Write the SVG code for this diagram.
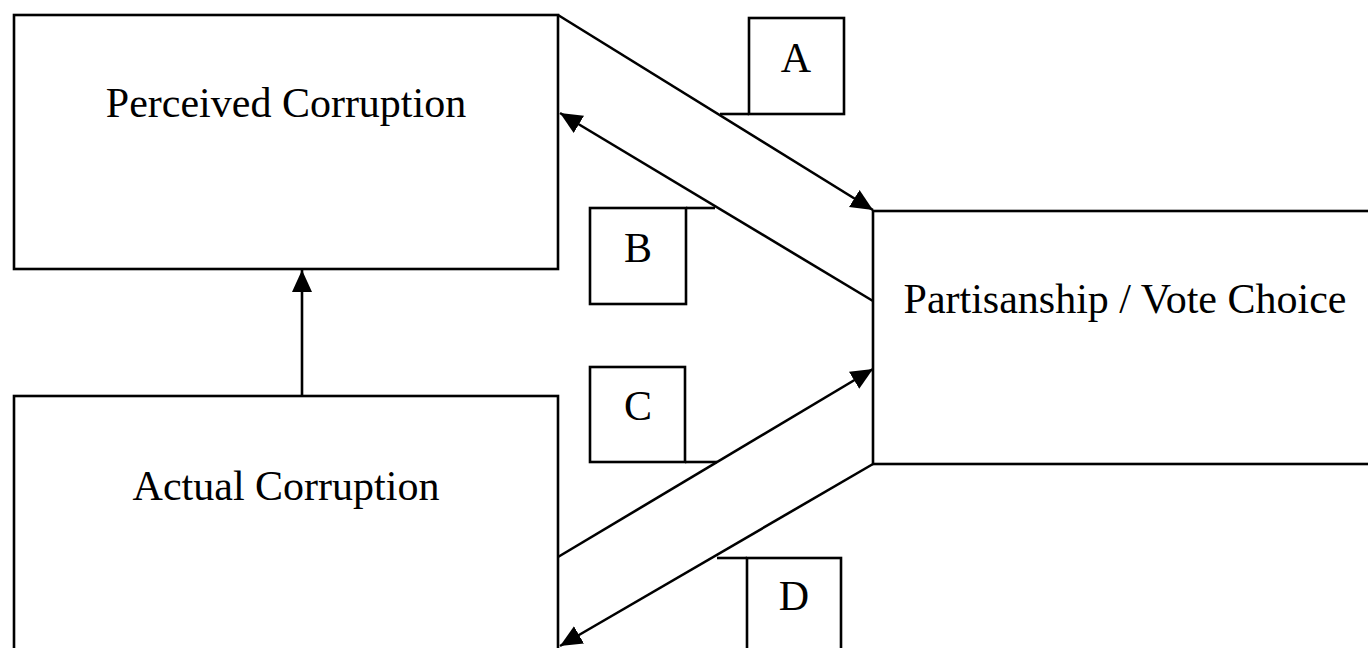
<svg xmlns="http://www.w3.org/2000/svg" width="1368" height="648" viewBox="0 0 1368 648">
<style>
.box{fill:none;stroke:#000;stroke-width:2.6}
.ln{fill:none;stroke:#000;stroke-width:2.6}
.t{font-family:"Liberation Serif","Times New Roman",serif;font-size:42px;fill:#000;text-anchor:middle}
</style>
<defs>
<marker id="ah" markerUnits="userSpaceOnUse" markerWidth="24" markerHeight="22" viewBox="0 0 24 22" refX="22" refY="11" orient="auto">
<path d="M0,1 L22,11 L0,21 Z" fill="#000"/>
</marker>
</defs>
<rect width="1368" height="648" fill="#fff"/>
<g id="perceived">
<rect class="box" x="14" y="15" width="544" height="254"/>
<text class="t" x="286" y="117">Perceived Corruption</text>
</g>
<g id="actual">
<rect class="box" x="14" y="396" width="544" height="270"/>
<text class="t" x="286" y="500">Actual Corruption</text>
</g>
<g id="partisanship">
<rect class="box" x="873" y="211" width="520" height="253"/>
<text class="t" x="1125" y="313">Partisanship / Vote Choice</text>
</g>
<g id="labelA">
<rect class="box" x="749" y="18" width="95" height="96"/>
<line class="ln" x1="720" y1="114" x2="749" y2="114"/>
<text class="t" x="796" y="72">A</text>
</g>
<g id="labelB">
<rect class="box" x="590" y="208" width="96" height="96"/>
<line class="ln" x1="686" y1="208" x2="715" y2="208"/>
<text class="t" x="638" y="262">B</text>
</g>
<g id="labelC">
<rect class="box" x="590" y="367" width="95" height="95"/>
<line class="ln" x1="685" y1="462" x2="717" y2="462"/>
<text class="t" x="638" y="420">C</text>
</g>
<g id="labelD">
<rect class="box" x="747" y="558" width="94" height="110"/>
<line class="ln" x1="717" y1="558" x2="747" y2="558"/>
<text class="t" x="794" y="610">D</text>
</g>
<g id="connectors">
<line class="ln" x1="302" y1="396" x2="302" y2="270" marker-end="url(#ah)"/>
<line class="ln" x1="558" y1="15" x2="873" y2="210" marker-end="url(#ah)"/>
<line class="ln" x1="873" y1="301" x2="560" y2="113" marker-end="url(#ah)"/>
<line class="ln" x1="558" y1="557" x2="873" y2="369" marker-end="url(#ah)"/>
<line class="ln" x1="873" y1="464" x2="560" y2="646" marker-end="url(#ah)"/>
</g>
</svg>
